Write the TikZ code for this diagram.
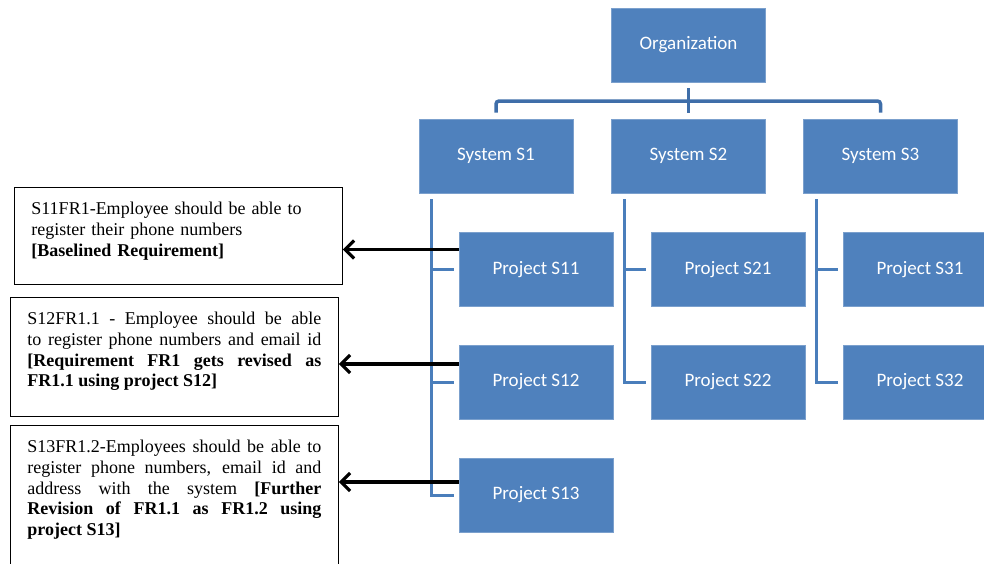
\documentclass[tikz,border=0pt]{standalone}
\usepackage{fontspec}
\setmainfont{Liberation Serif}
\newfontfamily\unitfont{Carlito}
\usepackage{xcolor}
\usepackage{tikz}
\usetikzlibrary{arrows.meta}
\hyphenpenalty=10000
\exhyphenpenalty=10000
\definecolor{unitblue}{HTML}{4F81BD}
\definecolor{treeblue}{HTML}{4A7EBB}
\definecolor{busblue}{HTML}{3F6EA9}
\tikzstyle{unit}=[rectangle,fill=unitblue,draw=unitblue!75!white,line width=0.6pt,minimum width=154pt,minimum height=74pt,text=white,font=\unitfont\fontsize{19}{22}\selectfont]
\tikzstyle{req}=[rectangle,draw=black,line width=0.8pt,anchor=north west,inner xsep=17pt,inner ysep=15pt,text width=294pt,align=justify,font=\fontsize{18}{20.6}\selectfont]
\tikzstyle{bus}=[draw=busblue,line width=3.5pt,rounded corners=3pt]
\tikzstyle{tree}=[draw=treeblue,line width=3pt]
\tikzstyle{link}=[->,>={Straight Barb[length=9pt,width=18pt]},line width=3.2pt]

\begin{document}
\begin{tikzpicture}[x=1pt,y=-1pt]
        \useasboundingbox (0,0) rectangle (984,563);
        \clip (0,0) rectangle (984,563);

        \node at (688.5,45)  [unit] (org) {Organization};
        \node at (496,156)   [unit] (s1)  {System S1};
        \node at (688.5,156) [unit] (s2)  {System S2};
        \node at (880.5,156) [unit] (s3)  {System S3};

        \node at (536,269.5) [unit] (p11) {Project S11};
        \node at (536,382)   [unit] (p12) {Project S12};
        \node at (536,495)   [unit] (p13) {Project S13};
        \node at (728,269.5) [unit] (p21) {Project S21};
        \node at (728,382)   [unit] (p22) {Project S22};
        \node at (920,269.5) [unit] (p31) {Project S31};
        \node at (920,382)   [unit] (p32) {Project S32};

        \node at (14,187) [req,align=left,text depth=55pt] (r1)
          {S11FR1-Employee should be able to\\register their phone numbers\\\textbf{[Baselined Requirement]}};
        \node at (10,297) [req,text depth=77pt] (r2)
          {S12FR1.1 - Employee should be able\linebreak to register phone numbers and email id\linebreak \textbf{[Requirement FR1 gets revised as\linebreak FR1.1 using project S12]}};
        \node at (10,425) [req,text depth=170pt] (r3)
          {S13FR1.2-Employees should be able to\linebreak register phone numbers, email id and\linebreak address with the system \textbf{[Further\linebreak Revision of FR1.1 as FR1.2 using\linebreak project S13]}};

        \coordinate (bus) at (688.5,101);
        \draw [bus] ([yshift=-6pt]org.south) -- ([yshift=6pt]s2.north);
        \draw [bus] ([yshift=6pt]s1.north) |- (bus) -| ([yshift=6pt]s3.north);

        \coordinate (t1) at ([xshift=13pt,yshift=-6pt]s1.south west);
        \coordinate (t2) at ([xshift=13pt,yshift=-6pt]s2.south west);
        \coordinate (t3) at ([xshift=13pt,yshift=-6pt]s3.south west);
        \draw [tree] (t1) |- ([xshift=-5pt]p13.west);
        \draw [tree] (t1 |- p11.west) -- ([xshift=-5pt]p11.west);
        \draw [tree] (t1 |- p12.west) -- ([xshift=-5pt]p12.west);
        \draw [tree] (t2) |- ([xshift=-5pt]p22.west);
        \draw [tree] (t2 |- p21.west) -- ([xshift=-5pt]p21.west);
        \draw [tree] (t3) |- ([xshift=-5pt]p32.west);
        \draw [tree] (t3 |- p31.west) -- ([xshift=-5pt]p31.west);

        \coordinate (a1) at ([yshift=20pt]p11.west);
        \coordinate (a2) at ([yshift=18pt]p12.west);
        \coordinate (a3) at ([yshift=13pt]p13.west);
        \draw [link] (a1) -- (a1 -| r1.east);
        \draw [link] (a2) -- (a2 -| r2.east);
        \draw [link] (a3) -- (a3 -| r3.east);
      \end{tikzpicture}
\end{document}
